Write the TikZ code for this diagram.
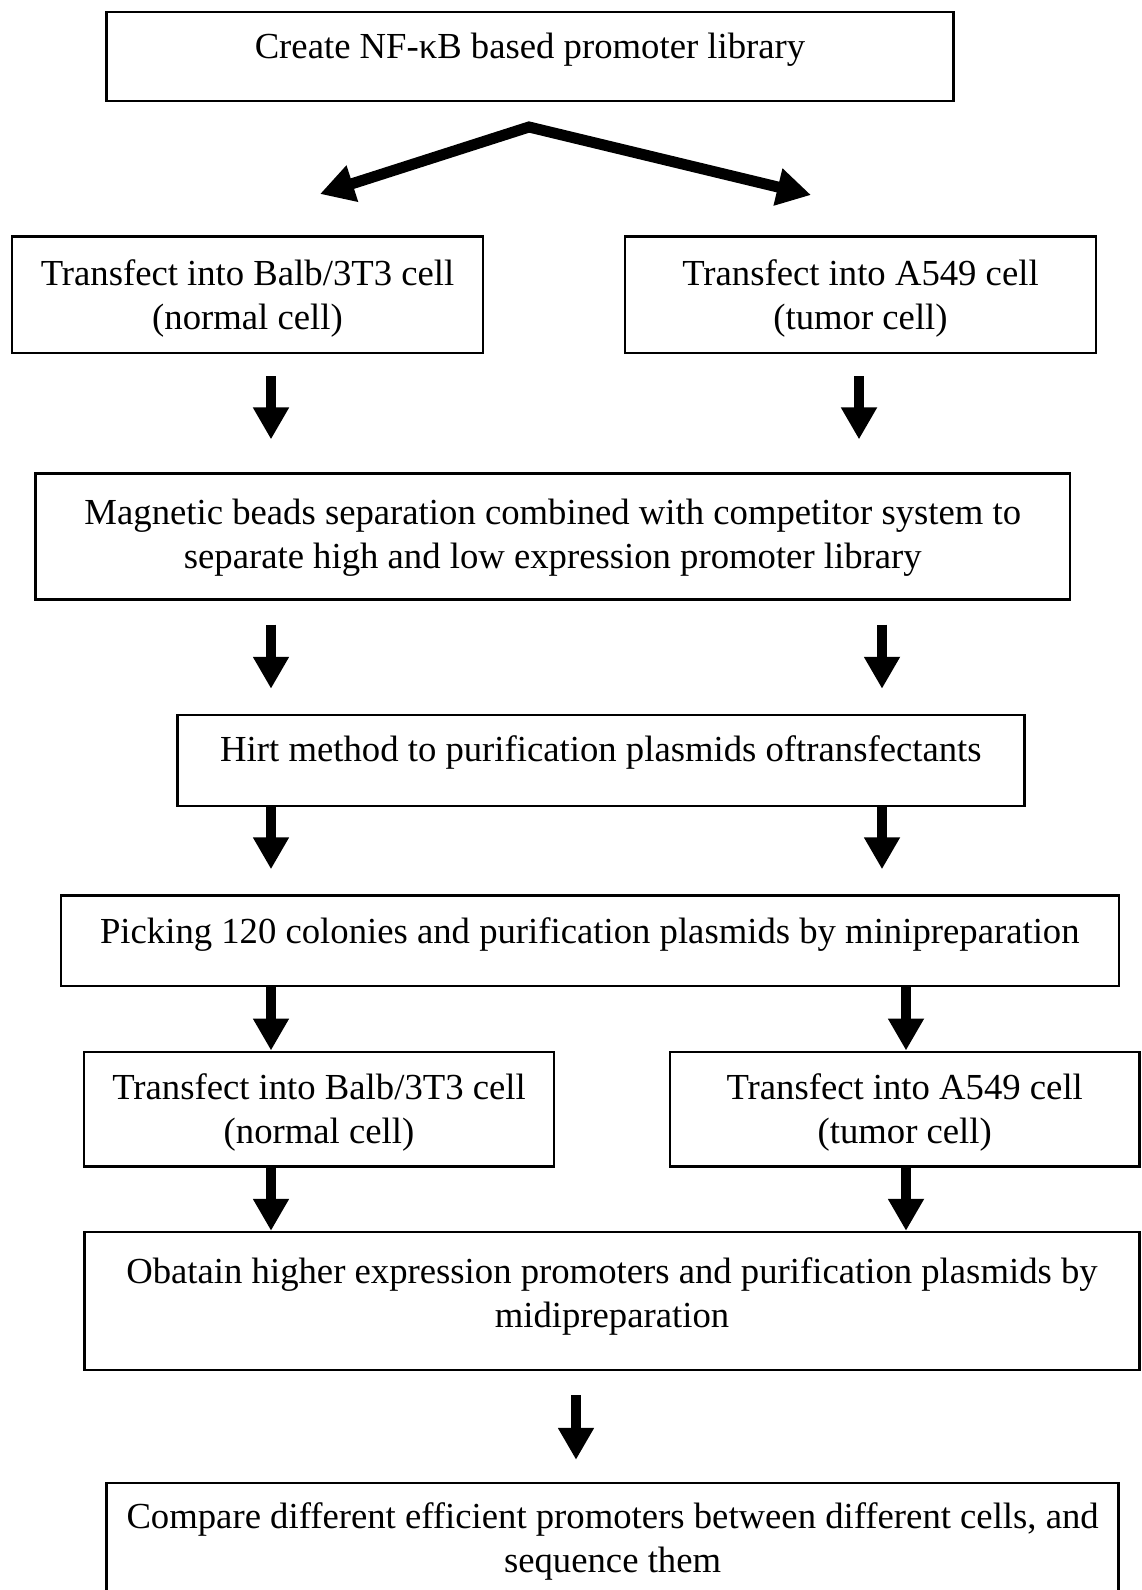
\documentclass[tikz,border=0pt]{standalone}
\usepackage{fontspec}
\setmainfont{Liberation Serif}
\usetikzlibrary{arrows.meta, positioning, calc}
\tikzset{
  stepbox/.style={draw, line width=2.4pt, align=center, inner sep=0pt,
      font=\fontsize{36.7}{44}\selectfont, minimum width=#1},
  bigarrow/.style={-{Triangle[width=34pt, length=32pt]}, line width=10pt},
  forkarrow/.style={{Triangle[width=36pt, length=34pt]}-{Triangle[width=36pt, length=34pt]},
      line width=11pt, line join=miter},
}

\begin{document}
\begin{tikzpicture}[x=1pt, y=1pt]
      \useasboundingbox (0,0) rectangle (1142,-1590);

      % === Library and first transfection ===
      \node[stepbox=847pt, minimum height=89pt, text depth=22pt] (create) at (530,-56.7)
          {Create NF-κB based promoter library};
      \node[stepbox=471pt, minimum height=116.6pt, text depth=0pt] (balbA) at (247.5,-294.6)
          {Transfect into Balb/3T3 cell\\(normal cell)};
      \node[stepbox=471pt, minimum height=116.6pt, text depth=0pt] (tumorA) at (860.5,-294.6)
          {Transfect into A549 cell\\(tumor cell)};

      % fork below the library box
      \coordinate (fork) at (529,-127);
      \coordinate (forkL) at (320,-194);
      \coordinate (forkR) at (811,-195);
      \draw[forkarrow] (forkL) -- (fork) -- (forkR);

      % === Separation and purification ===
      \node[stepbox=1034.5pt, minimum height=125.8pt, text depth=5pt] (beads) at (552.8,-536.5)
          {Magnetic beads separation combined with competitor system to\\separate high and low expression promoter library};
      \node[stepbox=846.8pt, minimum height=91.3pt, text depth=24pt] (hirt) at (600.9,-760.6)
          {Hirt method to purification plasmids oftransfectants};
      \node[stepbox=1057.8pt, minimum height=90.3pt, text depth=21pt] (picking) at (589.8,-940.6)
          {Picking 120 colonies and purification plasmids by minipreparation};

      % === Second transfection and result ===
      \node[stepbox=469.6pt, minimum height=114.6pt, text depth=0pt] (balbB) at (319,-1109)
          {Transfect into Balb/3T3 cell\\(normal cell)};
      \node[stepbox=469.6pt, minimum height=114.6pt, text depth=0pt] (tumorB) at (904.7,-1109)
          {Transfect into A549 cell\\(tumor cell)};
      \node[stepbox=1055pt, minimum height=138pt, text depth=16pt] (obtain) at (612,-1301)
          {Obatain higher expression promoters and purification plasmids by\\midipreparation};
      \node[stepbox=1012pt, minimum height=140pt, text depth=30pt] (compare) at (612.6,-1553)
          {Compare different efficient promoters between different cells, and\\sequence them};

      % arrow columns
      \coordinate (colL) at (271,0);
      \coordinate (colA) at (859,0);
      \coordinate (colB) at (882,0);
      \coordinate (colC) at (906,0);
      \coordinate (colM) at (576,0);

      % Arrows
      \draw[bigarrow, shorten <=22pt, shorten >=33pt] (colL |- balbA.south) -- (colL |- beads.north);
      \draw[bigarrow, shorten <=22pt, shorten >=33pt] (colA |- tumorA.south) -- (colA |- beads.north);
      \draw[bigarrow, shorten <=24pt, shorten >=25pt] (colL |- beads.south) -- (colL |- hirt.north);
      \draw[bigarrow, shorten <=24pt, shorten >=25pt] (colB |- beads.south) -- (colB |- hirt.north);
      \draw[bigarrow, shorten >=25pt] (colL |- hirt.south) -- (colL |- picking.north);
      \draw[bigarrow, shorten >=25pt] (colB |- hirt.south) -- (colB |- picking.north);
      \draw[bigarrow] (colL |- picking.south) -- (colL |- balbB.north);
      \draw[bigarrow] (colC |- picking.south) -- (colC |- tumorB.north);
      \draw[bigarrow] (colL |- balbB.south) -- (colL |- obtain.north);
      \draw[bigarrow] (colC |- tumorB.south) -- (colC |- obtain.north);
      \draw[bigarrow, shorten <=24pt, shorten >=22pt] (colM |- obtain.south) -- (colM |- compare.north);
    \end{tikzpicture}
\end{document}
